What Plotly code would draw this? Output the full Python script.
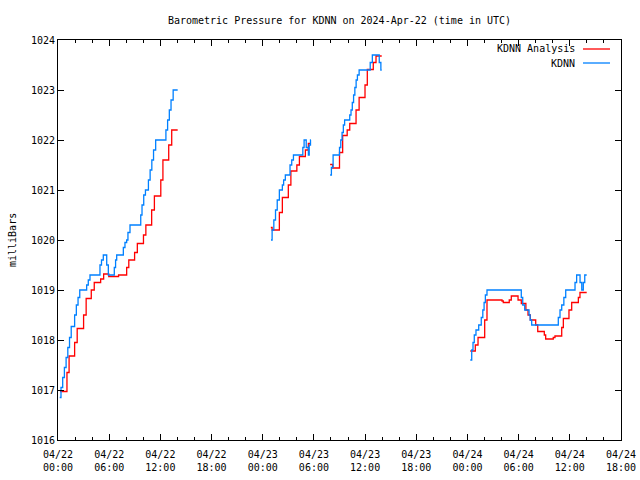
import pandas as pd
import plotly.graph_objects as go

# ---- data (hours after 2024-04-22 00:00 UTC, millibars) ----
START = "2024-04-22 00:00"

kdnn_seg1_h = [0.20, 0.35, 0.55, 0.75, 0.95, 1.15, 1.35, 1.55, 1.95, 2.15, 2.35, 2.55, 3.36, 3.55, 3.75,
               4.92, 5.10, 5.31, 5.71, 5.90, 6.60, 6.75, 6.88, 7.66, 7.85, 8.05, 8.20, 8.44, 9.70, 9.85,
               10.05, 10.25, 10.60, 10.80, 11.00, 11.20, 11.45, 12.65, 12.85, 13.05, 13.25, 13.50, 14.03]
kdnn_seg1_v = [1016.85, 1017.05, 1017.25, 1017.45, 1017.65, 1017.85, 1018.05, 1018.27, 1018.5, 1018.7, 1018.85, 1019.0, 1019.1, 1019.2, 1019.3,
               1019.5, 1019.6, 1019.7, 1019.5, 1019.3, 1019.45, 1019.6, 1019.7, 1019.85, 1019.95, 1020.0, 1020.15, 1020.3, 1020.5, 1020.7,
               1020.9, 1021.0, 1021.2, 1021.4, 1021.6, 1021.8, 1022.0, 1022.2, 1022.4, 1022.6, 1022.8, 1023.0, 1023.0]

kdnn_seg2_h = [24.97, 25.10, 25.30, 25.50, 25.70, 25.95, 26.30, 26.45, 26.65, 27.20, 27.40, 27.60, 28.70, 28.85, 29.10, 29.35, 29.45, 29.60, 29.65]
kdnn_seg2_v = [1020.0, 1020.2, 1020.4, 1020.6, 1020.8, 1021.0, 1021.1, 1021.2, 1021.3, 1021.5, 1021.6, 1021.7, 1021.85, 1022.0, 1021.85, 1021.7, 1021.9, 1022.0, 1022.0]

kdnn_seg3_h = [31.90, 32.05, 32.25, 33.00, 33.15, 33.30, 33.45, 33.60, 34.20, 34.35, 34.50, 34.65, 34.80, 34.95, 35.10, 35.30, 36.60, 36.85, 37.66, 37.85, 37.95]
kdnn_seg3_v = [1021.3, 1021.45, 1021.7, 1021.85, 1022.0, 1022.15, 1022.3, 1022.4, 1022.5, 1022.6, 1022.75, 1022.9, 1023.05, 1023.2, 1023.3, 1023.4, 1023.55, 1023.7, 1023.55, 1023.4, 1023.4]

kdnn_seg4_h = [48.33, 48.50, 48.65, 48.80, 49.00, 49.32, 49.62, 49.80, 49.95, 50.10, 50.29, 54.31, 54.48, 54.71, 55.22, 55.35, 55.53,
               58.65, 58.85, 59.05, 59.30, 59.52, 60.61, 60.80, 61.20, 61.40, 61.58, 61.75, 61.98]
kdnn_seg4_v = [1017.6, 1017.8, 1017.95, 1018.1, 1018.2, 1018.3, 1018.45, 1018.6, 1018.75, 1018.9, 1019.0, 1018.85, 1018.7, 1018.6, 1018.5, 1018.4, 1018.3,
               1018.45, 1018.6, 1018.7, 1018.85, 1019.0, 1019.15, 1019.3, 1019.15, 1019.0, 1019.15, 1019.3, 1019.3]

anal_seg1_h = [0.23, 1.05, 1.30, 1.95, 2.25, 3.00, 3.30, 3.90, 4.25, 5.00, 5.35, 5.95, 7.10, 8.05, 8.30, 8.98, 9.30,
               10.02, 10.30, 10.98, 11.30, 12.05, 12.30, 12.98, 13.33, 14.03]
anal_seg1_v = [1016.97, 1017.35, 1017.68, 1017.95, 1018.23, 1018.5, 1018.83, 1019.0, 1019.15, 1019.22, 1019.32, 1019.27, 1019.3, 1019.45, 1019.6, 1019.75, 1019.93,
               1020.1, 1020.3, 1020.6, 1020.88, 1021.2, 1021.6, 1021.9, 1022.2, 1022.2]

anal_seg2_h = [24.95, 25.10, 25.95, 26.30, 27.00, 27.30, 28.00, 28.30, 29.00, 29.35, 29.55]
anal_seg2_v = [1020.25, 1020.2, 1020.55, 1020.85, 1021.1, 1021.38, 1021.5, 1021.67, 1021.8, 1021.93, 1021.93]

anal_seg3_h = [31.90, 32.20, 33.00, 33.37, 33.90, 34.20, 34.94, 35.30, 35.99, 36.26, 36.96, 37.28, 37.95]
anal_seg3_v = [1021.51, 1021.44, 1021.75, 1022.09, 1022.2, 1022.33, 1022.6, 1022.85, 1023.1, 1023.41, 1023.55, 1023.68, 1023.68]

anal_seg4_h = [48.33, 48.92, 49.24, 50.02, 50.29, 52.05, 52.20, 52.90, 53.14, 53.93, 54.31, 54.85, 55.10, 55.37, 56.00, 56.24,
               57.01, 57.17, 58.06, 58.26, 59.05, 59.24, 59.90, 60.22, 61.00, 61.19, 61.98]
anal_seg4_v = [1017.78, 1017.9, 1018.05, 1018.4, 1018.8, 1018.78, 1018.75, 1018.8, 1018.88, 1018.8, 1018.73, 1018.6, 1018.5, 1018.4, 1018.3, 1018.17,
               1018.1, 1018.02, 1018.05, 1018.08, 1018.25, 1018.43, 1018.6, 1018.75, 1018.85, 1018.95, 1018.95]

series_names = ["KDNN Analysis", "KDNN"]
series_colors = ["#ff0000", "#0080ff"]


def join_segments(segs):
    xs, ys = [], []
    t0 = pd.Timestamp(START)
    for hrs, vals in segs:
        if xs:
            xs.append(None)
            ys.append(None)
        xs += [t0 + pd.Timedelta(hours=h) for h in hrs]
        ys += list(vals)
    return xs, ys


anal_x, anal_y = join_segments([(anal_seg1_h, anal_seg1_v), (anal_seg2_h, anal_seg2_v),
                                (anal_seg3_h, anal_seg3_v), (anal_seg4_h, anal_seg4_v)])
kdnn_x, kdnn_y = join_segments([(kdnn_seg1_h, kdnn_seg1_v), (kdnn_seg2_h, kdnn_seg2_v),
                                (kdnn_seg3_h, kdnn_seg3_v), (kdnn_seg4_h, kdnn_seg4_v)])

FONT = "DejaVu Sans Mono"

fig = go.Figure()
fig.add_trace(go.Scatter(x=anal_x, y=anal_y, mode="lines", name=series_names[0],
                         line=dict(color=series_colors[0], width=1.3, shape="hv"),
                         connectgaps=False, showlegend=False))
fig.add_trace(go.Scatter(x=kdnn_x, y=kdnn_y, mode="lines", name=series_names[1],
                         line=dict(color=series_colors[1], width=1.3, shape="hv"),
                         connectgaps=False, showlegend=False))

fig.update_layout(
    width=640, height=480,
    margin=dict(l=58, r=19, t=40, b=40, pad=0, autoexpand=False),
    paper_bgcolor="white", plot_bgcolor="white",
    font=dict(family=FONT, size=10, color="black"),
    title=dict(text="Barometric Pressure for KDNN on 2024-Apr-22 (time in UTC)",
               x=0.5, xref="paper", xanchor="center", y=1 - 20 / 480, yref="container",
               yanchor="middle", automargin=False,
               font=dict(family=FONT, size=10, color="black")),
    xaxis=dict(type="date", range=["2024-04-22 00:00", "2024-04-24 18:00"], automargin=False,
               tickmode="linear", tick0="2024-04-22 00:00", dtick=6 * 3600 * 1000,
               tickformat="%m/%d<br>%H:%M", ticks="inside", ticklen=6, tickcolor="black",
               ticklabelstandoff=5,
               minor=dict(ticks="inside", ticklen=3, dtick=2 * 3600 * 1000, tickcolor="black", showgrid=False),
               showline=True, linecolor="black", linewidth=1, mirror="ticks",
               showgrid=False, zeroline=False, tickfont=dict(family=FONT, size=10)),
    yaxis=dict(range=[1016, 1024], tickmode="linear", tick0=1016, dtick=1, automargin=False,
               ticks="inside", ticklen=6, tickcolor="black",
               showline=True, linecolor="black", linewidth=1, mirror="ticks",
               showgrid=False, zeroline=False, tickfont=dict(family=FONT, size=10)),
)

# y-axis title placed like the original (rotated text at the far left)
fig.add_annotation(text="milliBars", textangle=-90, xref="paper", yref="paper",
                   x=(12 - 58) / 563, y=0.5, xanchor="center", yanchor="middle",
                   showarrow=False, font=dict(family=FONT, size=10, color="black"))

# legend in gnuplot style: text, then a line sample to its right
legend_rows = [(49, series_names[0], series_colors[0]), (63, series_names[1], series_colors[1])]
for ypx, name, col in legend_rows:
    yp = 1 - (ypx - 40) / 400
    fig.add_annotation(text=name, xref="paper", yref="paper", x=(577 - 58) / 563, y=yp,
                       xanchor="right", yanchor="middle", showarrow=False,
                       font=dict(family=FONT, size=10, color="black"))
    fig.add_shape(type="line", xref="paper", yref="paper",
                  x0=(583 - 58) / 563, x1=(610 - 58) / 563, y0=yp, y1=yp,
                  line=dict(color=col, width=1.3))

fig.write_html("out.html", config={"displayModeBar": False},
               post_script="document.body.style.margin='0';document.body.style.padding='0';")
